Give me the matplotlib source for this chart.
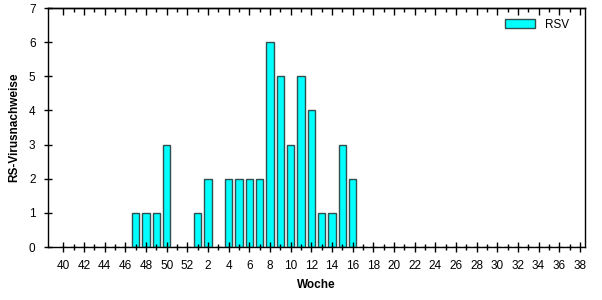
import matplotlib
matplotlib.use("Agg")
import matplotlib.pyplot as plt
from matplotlib.ticker import FixedLocator, NullFormatter

weeks = list(range(40, 53)) + list(range(1, 40))
values = [0, 0, 0, 0, 0, 0, 0, 1, 1, 1, 3, 0, 0,
          1, 2, 0, 2, 2, 2, 2, 6, 5, 3, 5, 4, 1, 1, 3, 2,
          0, 0, 0, 0, 0, 0, 0, 0, 0, 0, 0, 0, 0, 0, 0, 0, 0, 0, 0, 0, 0, 0, 0]
series_name = "RSV"
x_label = "Woche"
y_label = "RS-Virusnachweise"

plt.rcParams['font.family'] = ['Liberation Sans', 'DejaVu Sans']

fig = plt.figure(figsize=(6.02, 3.0), dpi=100)
ax = fig.add_axes([48/602, 1-247/300, (585-48)/602, (247-8)/300])

idx = list(range(len(weeks)))
vals = values[:len(weeks)]
ax.bar(idx, vals, width=0.7, color='#00FFFF', edgecolor='#2F4F4F', linewidth=1.0, label=series_name)

ax.set_xlim(-1.5, len(weeks) - 1.5)
ax.set_ylim(0, 7)

major = [i for i, w in enumerate(weeks) if w % 2 == 0 and w != 39]
ax.xaxis.set_major_locator(FixedLocator(major))
ax.set_xticklabels([str(weeks[i]) for i in major])
ax.xaxis.set_minor_locator(FixedLocator(idx))
ax.tick_params(axis='x', which='major', direction='inout', length=7, width=1, labelsize=8.5, pad=6)
ax.tick_params(axis='x', which='minor', direction='inout', length=4, width=1)
ax.set_yticks(range(0, 8))
ax.tick_params(axis='y', which='major', direction='inout', length=6, width=1, labelsize=8.5, pad=6)

sec = ax.secondary_xaxis('top')
sec.xaxis.set_major_locator(FixedLocator(major))
sec.xaxis.set_minor_locator(FixedLocator(idx))
sec.xaxis.set_major_formatter(NullFormatter())
sec.tick_params(which='major', direction='in', length=5, width=1)
sec.tick_params(which='minor', direction='in', length=3, width=1)
sec.spines['top'].set_linewidth(1.0)

for s in ax.spines.values():
    s.set_linewidth(1.0)

ax.set_xlabel(x_label, fontsize=8.5, fontweight='bold')
ax.xaxis.set_label_coords(0.5, -0.135)
ax.set_ylabel(y_label, fontsize=8.5, fontweight='bold')
ax.yaxis.set_label_coords(-0.052, 0.5)

leg = ax.legend(loc='upper right', frameon=False, fontsize=8.5, handlelength=2.6, handleheight=0.7,
                handletextpad=0.8, borderaxespad=0.5, bbox_to_anchor=(0.99, 1.0))

fig.savefig("out.png", dpi=100)
